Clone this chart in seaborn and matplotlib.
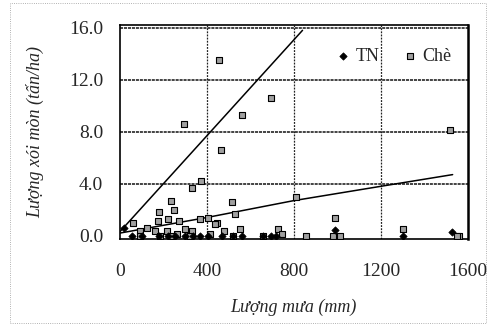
import numpy as np
import pandas as pd
import matplotlib
matplotlib.use('Agg')
import matplotlib.pyplot as plt
import seaborn as sns

# Chè (tea) plots: rainfall (mm) vs erosion (t/ha)
che_x = [455, 694, 560, 296, 1518, 464, 372, 333, 812, 514, 235, 248, 989,
         181, 222, 271, 175, 529, 368, 445, 405, 478, 552, 728, 744, 1300,
         858, 1010, 1557, 521, 660, 61, 92, 123, 161, 215, 299, 261, 330,
         92, 184, 237, 322, 414, 437, 982, 1549]
che_y = [13.5, 10.6, 9.3, 8.6, 8.1, 6.6, 4.2, 3.7, 3.0, 2.6, 2.7, 1.95, 1.4,
         1.8, 1.3, 1.15, 1.1, 1.7, 1.3, 1.0, 1.4, 0.4, 0.55, 0.5, 0.1, 0.5,
         0.0, 0.0, 0.0, 0.0, 0.0, 1.0, 0.4, 0.6, 0.4, 0.4, 0.5, 0.1, 0.4,
         0.0, 0.0, 0.0, 0.0, 0.1, 0.9, 0.0, 0.0]

# TN (natural) plots
tn_x = [20, 54, 100, 181, 222, 253, 299, 337, 368, 406, 472, 521, 564, 659,
        697, 720, 989, 1300, 1525]
tn_y = [0.6, -0.05, -0.05, -0.05, -0.05, -0.05, -0.05, -0.05, -0.05, 0.0,
        -0.05, -0.05, -0.05, -0.05, -0.05, -0.05, 0.45, -0.05, 0.25]

# fitted trend lines
fit_che_x = [0, 840]
fit_che_y = [0.3, 15.8]
fit_tn_x = [0, 400, 800, 1200, 1530]
fit_tn_y = [0.2, 1.4, 2.7, 3.8, 4.7]

xticks = [0, 400, 800, 1200, 1600]
yticks = [0, 4, 8, 12, 16]

sns.set_style('white')
plt.rcParams['font.family'] = ['Liberation Serif', 'DejaVu Serif']

fig = plt.figure(figsize=(4.93, 3.26), dpi=100)
ax = fig.add_axes([0.243, 0.267, 0.706, 0.656])

# grid lines (scan looks dotted)
for x in xticks[1:-1]:
    ax.plot([x, x], [-0.25, 16.2], color='#222222', lw=0.9,
            ls=(0, (1.5, 1)), zorder=1)
for y in yticks[1:]:
    ax.plot([0, 1600], [y, y], color='#111111', lw=1.1,
            ls=(0, (2, 0.6)), zorder=1)

sns.lineplot(x=fit_che_x, y=fit_che_y, ax=ax, color='black', lw=1.1, zorder=2)
sns.lineplot(x=fit_tn_x, y=fit_tn_y, ax=ax, color='black', lw=1.1, zorder=2)

sns.scatterplot(x=che_x, y=che_y, ax=ax, marker='s', s=16, color='#a0a0a0',
                edgecolor='black', linewidth=0.8, label='Chè', zorder=3)
sns.scatterplot(x=tn_x, y=tn_y, ax=ax, marker='D', s=14, color='black',
                edgecolor='black', linewidth=0.5, label='TN', zorder=4)

ax.set_xlim(0, 1600)
ax.set_ylim(-0.25, 16.2)
ax.set_xticks(xticks)
ax.set_xticklabels([str(v) for v in xticks])
ax.set_yticks(yticks)
ax.set_yticklabels(['%.1f' % v for v in yticks])
ax.tick_params(axis='both', length=0, labelsize=14)
ax.tick_params(axis='x', pad=17)
ax.tick_params(axis='y', pad=12)

for s in ax.spines.values():
    s.set_visible(True)
    s.set_color('black')
    s.set_linewidth(1.2)
ax.spines['right'].set_linewidth(1.8)

ax.set_xlabel('Lượng mưa (mm)', fontsize=13, style='italic', labelpad=14)
ax.set_ylabel('Lượng xói mòn (tấn/ha)', fontsize=13, style='italic', labelpad=18)

h, l = ax.get_legend_handles_labels()
ax.legend(h[::-1], l[::-1], loc='upper right', ncol=2, frameon=False,
          fontsize=13, handletextpad=0.3, columnspacing=1.3,
          bbox_to_anchor=(1.0, 0.97), handlelength=0.8)

# faint border of the scanned figure
fig.add_artist(plt.Rectangle((0.02, 0.01), 0.965, 0.98, fill=False,
                             ec='#999999', lw=0.6, ls=':',
                             transform=fig.transFigure))

fig.savefig('out.png', dpi=100)
